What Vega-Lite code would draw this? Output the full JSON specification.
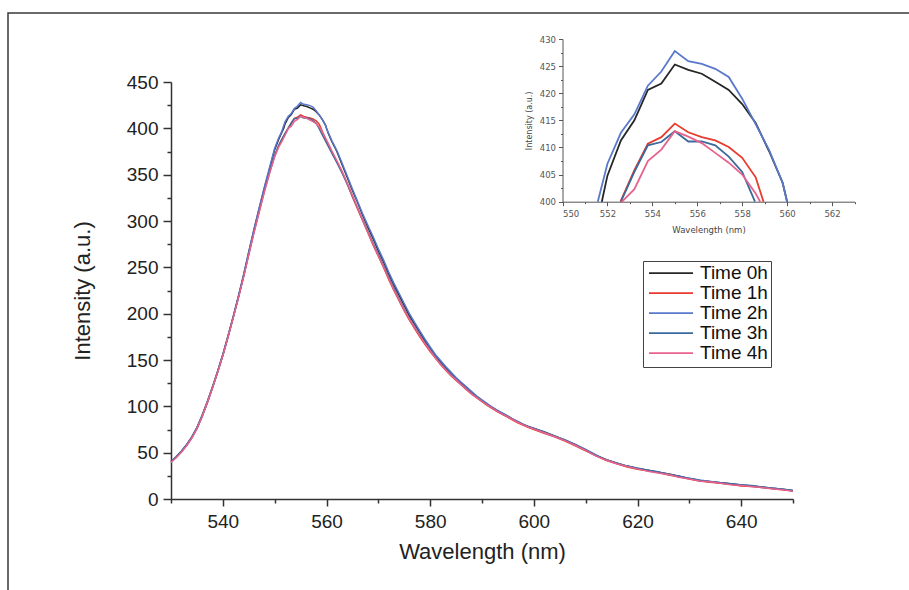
{
"$schema": "https://vega.github.io/schema/vega-lite/v6.json",
"width": 910, "height": 590,
"autosize": {"type": "none"},
"padding": {"left": 8, "top": 13, "right": 0, "bottom": 0},
"background": "white",
"config": {"view": {"stroke": "#3a3a3a", "strokeWidth": 1.5}, "font": "Liberation Sans"},
"data": {"values": [
{"s":"Time 0h","w":530,"i":40.5},{"s":"Time 0h","w":531,"i":45},{"s":"Time 0h","w":532,"i":51},{"s":"Time 0h","w":533,"i":58},{"s":"Time 0h","w":534,"i":66},{"s":"Time 0h","w":535,"i":76},{"s":"Time 0h","w":536,"i":89},{"s":"Time 0h","w":537,"i":104},{"s":"Time 0h","w":538,"i":120},{"s":"Time 0h","w":539,"i":137},{"s":"Time 0h","w":540,"i":155},{"s":"Time 0h","w":541,"i":175},{"s":"Time 0h","w":542,"i":196},{"s":"Time 0h","w":543,"i":218},{"s":"Time 0h","w":544,"i":241},{"s":"Time 0h","w":545,"i":266},{"s":"Time 0h","w":546,"i":290},{"s":"Time 0h","w":547,"i":313},{"s":"Time 0h","w":548,"i":335},{"s":"Time 0h","w":549,"i":356},{"s":"Time 0h","w":550,"i":377},{"s":"Time 0h","w":550.8,"i":388.5},{"s":"Time 0h","w":551.4,"i":395.8},{"s":"Time 0h","w":551.75,"i":400},{"s":"Time 0h","w":552,"i":404.8},{"s":"Time 0h","w":552.6,"i":411.3},{"s":"Time 0h","w":553.2,"i":415},{"s":"Time 0h","w":553.8,"i":420.6},{"s":"Time 0h","w":554.4,"i":421.8},{"s":"Time 0h","w":555,"i":425.3},{"s":"Time 0h","w":555.6,"i":424.3},{"s":"Time 0h","w":556.2,"i":423.6},{"s":"Time 0h","w":556.8,"i":422.1},{"s":"Time 0h","w":557.4,"i":420.6},{"s":"Time 0h","w":558,"i":418},{"s":"Time 0h","w":558.6,"i":414.5},{"s":"Time 0h","w":559.2,"i":409.3},{"s":"Time 0h","w":559.8,"i":403.5},{"s":"Time 0h","w":560,"i":400},{"s":"Time 0h","w":560.4,"i":394},{"s":"Time 0h","w":561,"i":386},{"s":"Time 0h","w":562,"i":375},{"s":"Time 0h","w":563,"i":361},{"s":"Time 0h","w":564,"i":347},{"s":"Time 0h","w":565,"i":333},{"s":"Time 0h","w":566,"i":320},{"s":"Time 0h","w":567,"i":306},{"s":"Time 0h","w":568,"i":293},{"s":"Time 0h","w":569,"i":281},{"s":"Time 0h","w":570,"i":268},{"s":"Time 0h","w":571,"i":256},{"s":"Time 0h","w":572,"i":243},{"s":"Time 0h","w":573,"i":231},{"s":"Time 0h","w":574,"i":220},{"s":"Time 0h","w":575,"i":209},{"s":"Time 0h","w":576,"i":198},{"s":"Time 0h","w":577,"i":189},{"s":"Time 0h","w":578,"i":180},{"s":"Time 0h","w":579,"i":171},{"s":"Time 0h","w":580,"i":163},{"s":"Time 0h","w":581,"i":155},{"s":"Time 0h","w":582,"i":148},{"s":"Time 0h","w":583,"i":142},{"s":"Time 0h","w":584,"i":136},{"s":"Time 0h","w":585,"i":130},{"s":"Time 0h","w":586,"i":125},{"s":"Time 0h","w":587,"i":120},{"s":"Time 0h","w":588,"i":115},{"s":"Time 0h","w":589,"i":110},{"s":"Time 0h","w":590,"i":106},{"s":"Time 0h","w":591,"i":102},{"s":"Time 0h","w":592,"i":98},{"s":"Time 0h","w":593,"i":95},{"s":"Time 0h","w":594,"i":92},{"s":"Time 0h","w":595,"i":89},{"s":"Time 0h","w":596,"i":86},{"s":"Time 0h","w":597,"i":83},{"s":"Time 0h","w":598,"i":80},{"s":"Time 0h","w":599,"i":78},{"s":"Time 0h","w":600,"i":76},{"s":"Time 0h","w":602,"i":72},{"s":"Time 0h","w":604,"i":68},{"s":"Time 0h","w":606,"i":63.5},{"s":"Time 0h","w":608,"i":58.5},{"s":"Time 0h","w":610,"i":53},{"s":"Time 0h","w":612,"i":47},{"s":"Time 0h","w":614,"i":42.5},{"s":"Time 0h","w":616,"i":38.5},{"s":"Time 0h","w":618,"i":35.5},{"s":"Time 0h","w":620,"i":33},{"s":"Time 0h","w":622,"i":31},{"s":"Time 0h","w":624,"i":29},{"s":"Time 0h","w":626,"i":27},{"s":"Time 0h","w":628,"i":24.5},{"s":"Time 0h","w":630,"i":22},{"s":"Time 0h","w":632,"i":20},{"s":"Time 0h","w":634,"i":18.5},{"s":"Time 0h","w":636,"i":17.5},{"s":"Time 0h","w":638,"i":16.5},{"s":"Time 0h","w":640,"i":15},{"s":"Time 0h","w":642,"i":14},{"s":"Time 0h","w":644,"i":13},{"s":"Time 0h","w":646,"i":11.5},{"s":"Time 0h","w":648,"i":10.5},{"s":"Time 0h","w":650,"i":9},
{"s":"Time 1h","w":530,"i":40},{"s":"Time 1h","w":531,"i":45},{"s":"Time 1h","w":532,"i":51},{"s":"Time 1h","w":533,"i":58},{"s":"Time 1h","w":534,"i":66.5},{"s":"Time 1h","w":535,"i":76.5},{"s":"Time 1h","w":536,"i":89.5},{"s":"Time 1h","w":537,"i":104},{"s":"Time 1h","w":538,"i":120},{"s":"Time 1h","w":539,"i":137},{"s":"Time 1h","w":540,"i":155},{"s":"Time 1h","w":541,"i":175},{"s":"Time 1h","w":542,"i":196},{"s":"Time 1h","w":543,"i":217},{"s":"Time 1h","w":544,"i":240},{"s":"Time 1h","w":545,"i":264},{"s":"Time 1h","w":546,"i":288},{"s":"Time 1h","w":547,"i":310},{"s":"Time 1h","w":548,"i":332},{"s":"Time 1h","w":549,"i":352},{"s":"Time 1h","w":550,"i":370},{"s":"Time 1h","w":550.8,"i":381.5},{"s":"Time 1h","w":551.4,"i":388},{"s":"Time 1h","w":552,"i":394},{"s":"Time 1h","w":552.58,"i":400},{"s":"Time 1h","w":553.2,"i":405.8},{"s":"Time 1h","w":553.8,"i":410.7},{"s":"Time 1h","w":554.4,"i":411.9},{"s":"Time 1h","w":555,"i":414.4},{"s":"Time 1h","w":555.6,"i":412.8},{"s":"Time 1h","w":556.2,"i":411.9},{"s":"Time 1h","w":556.8,"i":411.3},{"s":"Time 1h","w":557.4,"i":410.1},{"s":"Time 1h","w":558,"i":408.1},{"s":"Time 1h","w":558.6,"i":404.5},{"s":"Time 1h","w":558.95,"i":400},{"s":"Time 1h","w":559.2,"i":396.5},{"s":"Time 1h","w":559.8,"i":389},{"s":"Time 1h","w":560.4,"i":382},{"s":"Time 1h","w":561,"i":375},{"s":"Time 1h","w":562,"i":364},{"s":"Time 1h","w":563,"i":353},{"s":"Time 1h","w":564,"i":340},{"s":"Time 1h","w":565,"i":326},{"s":"Time 1h","w":566,"i":313},{"s":"Time 1h","w":567,"i":300},{"s":"Time 1h","w":568,"i":287},{"s":"Time 1h","w":569,"i":274},{"s":"Time 1h","w":570,"i":262},{"s":"Time 1h","w":571,"i":250},{"s":"Time 1h","w":572,"i":237},{"s":"Time 1h","w":573,"i":225},{"s":"Time 1h","w":574,"i":214},{"s":"Time 1h","w":575,"i":203},{"s":"Time 1h","w":576,"i":193},{"s":"Time 1h","w":577,"i":184},{"s":"Time 1h","w":578,"i":175},{"s":"Time 1h","w":579,"i":167},{"s":"Time 1h","w":580,"i":159},{"s":"Time 1h","w":581,"i":152},{"s":"Time 1h","w":582,"i":145},{"s":"Time 1h","w":583,"i":139},{"s":"Time 1h","w":584,"i":133},{"s":"Time 1h","w":585,"i":128},{"s":"Time 1h","w":586,"i":123},{"s":"Time 1h","w":587,"i":118},{"s":"Time 1h","w":588,"i":113},{"s":"Time 1h","w":589,"i":109},{"s":"Time 1h","w":590,"i":105},{"s":"Time 1h","w":591,"i":101},{"s":"Time 1h","w":592,"i":97.5},{"s":"Time 1h","w":593,"i":94},{"s":"Time 1h","w":594,"i":91},{"s":"Time 1h","w":595,"i":88},{"s":"Time 1h","w":596,"i":85},{"s":"Time 1h","w":597,"i":82},{"s":"Time 1h","w":598,"i":79.5},{"s":"Time 1h","w":599,"i":77},{"s":"Time 1h","w":600,"i":75},{"s":"Time 1h","w":602,"i":71},{"s":"Time 1h","w":604,"i":67},{"s":"Time 1h","w":606,"i":62.5},{"s":"Time 1h","w":608,"i":57.5},{"s":"Time 1h","w":610,"i":52},{"s":"Time 1h","w":612,"i":46.5},{"s":"Time 1h","w":614,"i":41.5},{"s":"Time 1h","w":616,"i":38},{"s":"Time 1h","w":618,"i":34.5},{"s":"Time 1h","w":620,"i":32},{"s":"Time 1h","w":622,"i":30.5},{"s":"Time 1h","w":624,"i":28.5},{"s":"Time 1h","w":626,"i":26},{"s":"Time 1h","w":628,"i":24},{"s":"Time 1h","w":630,"i":21.5},{"s":"Time 1h","w":632,"i":19.5},{"s":"Time 1h","w":634,"i":18},{"s":"Time 1h","w":636,"i":17},{"s":"Time 1h","w":638,"i":16},{"s":"Time 1h","w":640,"i":14},{"s":"Time 1h","w":642,"i":13.5},{"s":"Time 1h","w":644,"i":12.5},{"s":"Time 1h","w":646,"i":11},{"s":"Time 1h","w":648,"i":10},{"s":"Time 1h","w":650,"i":8.5},
{"s":"Time 2h","w":530,"i":40},{"s":"Time 2h","w":531,"i":45.5},{"s":"Time 2h","w":532,"i":51.5},{"s":"Time 2h","w":533,"i":58.5},{"s":"Time 2h","w":534,"i":67},{"s":"Time 2h","w":535,"i":77},{"s":"Time 2h","w":536,"i":90},{"s":"Time 2h","w":537,"i":105},{"s":"Time 2h","w":538,"i":121},{"s":"Time 2h","w":539,"i":138},{"s":"Time 2h","w":540,"i":156},{"s":"Time 2h","w":541,"i":176},{"s":"Time 2h","w":542,"i":197},{"s":"Time 2h","w":543,"i":219},{"s":"Time 2h","w":544,"i":242},{"s":"Time 2h","w":545,"i":267},{"s":"Time 2h","w":546,"i":291},{"s":"Time 2h","w":547,"i":314},{"s":"Time 2h","w":548,"i":336.5},{"s":"Time 2h","w":549,"i":357.5},{"s":"Time 2h","w":550,"i":378.5},{"s":"Time 2h","w":550.8,"i":390},{"s":"Time 2h","w":551.4,"i":397},{"s":"Time 2h","w":551.57,"i":400},{"s":"Time 2h","w":552,"i":407},{"s":"Time 2h","w":552.6,"i":412.7},{"s":"Time 2h","w":553.2,"i":416.1},{"s":"Time 2h","w":553.8,"i":421.4},{"s":"Time 2h","w":554.4,"i":424},{"s":"Time 2h","w":555,"i":427.8},{"s":"Time 2h","w":555.6,"i":425.9},{"s":"Time 2h","w":556.2,"i":425.4},{"s":"Time 2h","w":556.8,"i":424.5},{"s":"Time 2h","w":557.4,"i":423},{"s":"Time 2h","w":558,"i":419},{"s":"Time 2h","w":558.6,"i":414.3},{"s":"Time 2h","w":559.2,"i":409.5},{"s":"Time 2h","w":559.8,"i":403.5},{"s":"Time 2h","w":560,"i":400},{"s":"Time 2h","w":560.4,"i":394.5},{"s":"Time 2h","w":561,"i":387},{"s":"Time 2h","w":562,"i":376},{"s":"Time 2h","w":563,"i":362.5},{"s":"Time 2h","w":564,"i":348.5},{"s":"Time 2h","w":565,"i":334.5},{"s":"Time 2h","w":566,"i":321},{"s":"Time 2h","w":567,"i":307.5},{"s":"Time 2h","w":568,"i":295},{"s":"Time 2h","w":569,"i":283},{"s":"Time 2h","w":570,"i":270},{"s":"Time 2h","w":571,"i":258},{"s":"Time 2h","w":572,"i":245},{"s":"Time 2h","w":573,"i":233},{"s":"Time 2h","w":574,"i":222},{"s":"Time 2h","w":575,"i":211},{"s":"Time 2h","w":576,"i":200},{"s":"Time 2h","w":577,"i":190.5},{"s":"Time 2h","w":578,"i":181.5},{"s":"Time 2h","w":579,"i":172.5},{"s":"Time 2h","w":580,"i":164},{"s":"Time 2h","w":581,"i":156},{"s":"Time 2h","w":582,"i":149.5},{"s":"Time 2h","w":583,"i":143},{"s":"Time 2h","w":584,"i":137},{"s":"Time 2h","w":585,"i":131},{"s":"Time 2h","w":586,"i":126},{"s":"Time 2h","w":587,"i":121},{"s":"Time 2h","w":588,"i":116},{"s":"Time 2h","w":589,"i":111},{"s":"Time 2h","w":590,"i":107},{"s":"Time 2h","w":591,"i":103},{"s":"Time 2h","w":592,"i":99},{"s":"Time 2h","w":593,"i":95.5},{"s":"Time 2h","w":594,"i":92.5},{"s":"Time 2h","w":595,"i":89.5},{"s":"Time 2h","w":596,"i":86},{"s":"Time 2h","w":597,"i":83.5},{"s":"Time 2h","w":598,"i":80.5},{"s":"Time 2h","w":599,"i":78},{"s":"Time 2h","w":600,"i":76.5},{"s":"Time 2h","w":602,"i":72},{"s":"Time 2h","w":604,"i":67.5},{"s":"Time 2h","w":606,"i":64},{"s":"Time 2h","w":608,"i":59},{"s":"Time 2h","w":610,"i":53.5},{"s":"Time 2h","w":612,"i":47.5},{"s":"Time 2h","w":614,"i":42},{"s":"Time 2h","w":616,"i":39},{"s":"Time 2h","w":618,"i":35.5},{"s":"Time 2h","w":620,"i":33.5},{"s":"Time 2h","w":622,"i":31},{"s":"Time 2h","w":624,"i":29.5},{"s":"Time 2h","w":626,"i":26.5},{"s":"Time 2h","w":628,"i":24.5},{"s":"Time 2h","w":630,"i":22.5},{"s":"Time 2h","w":632,"i":20.5},{"s":"Time 2h","w":634,"i":19},{"s":"Time 2h","w":636,"i":17.5},{"s":"Time 2h","w":638,"i":16},{"s":"Time 2h","w":640,"i":15.5},{"s":"Time 2h","w":642,"i":14},{"s":"Time 2h","w":644,"i":12.5},{"s":"Time 2h","w":646,"i":12},{"s":"Time 2h","w":648,"i":10.5},{"s":"Time 2h","w":650,"i":9.5},
{"s":"Time 3h","w":530,"i":40.5},{"s":"Time 3h","w":531,"i":45.5},{"s":"Time 3h","w":532,"i":51.5},{"s":"Time 3h","w":533,"i":58.5},{"s":"Time 3h","w":534,"i":66.5},{"s":"Time 3h","w":535,"i":77},{"s":"Time 3h","w":536,"i":90},{"s":"Time 3h","w":537,"i":105},{"s":"Time 3h","w":538,"i":121},{"s":"Time 3h","w":539,"i":138},{"s":"Time 3h","w":540,"i":156},{"s":"Time 3h","w":541,"i":176},{"s":"Time 3h","w":542,"i":196.5},{"s":"Time 3h","w":543,"i":218},{"s":"Time 3h","w":544,"i":240.5},{"s":"Time 3h","w":545,"i":264.5},{"s":"Time 3h","w":546,"i":288.5},{"s":"Time 3h","w":547,"i":311},{"s":"Time 3h","w":548,"i":333},{"s":"Time 3h","w":549,"i":353},{"s":"Time 3h","w":550,"i":371},{"s":"Time 3h","w":550.8,"i":382},{"s":"Time 3h","w":551.4,"i":388.5},{"s":"Time 3h","w":552,"i":394.5},{"s":"Time 3h","w":552.6,"i":400},{"s":"Time 3h","w":553.2,"i":405.5},{"s":"Time 3h","w":553.8,"i":410.4},{"s":"Time 3h","w":554.4,"i":411},{"s":"Time 3h","w":555,"i":413},{"s":"Time 3h","w":555.6,"i":411.1},{"s":"Time 3h","w":556.2,"i":411.1},{"s":"Time 3h","w":556.8,"i":410.4},{"s":"Time 3h","w":557.4,"i":408.3},{"s":"Time 3h","w":558,"i":405.5},{"s":"Time 3h","w":558.57,"i":400},{"s":"Time 3h","w":559.2,"i":393},{"s":"Time 3h","w":559.8,"i":386.5},{"s":"Time 3h","w":560.4,"i":380},{"s":"Time 3h","w":561,"i":373.5},{"s":"Time 3h","w":562,"i":363},{"s":"Time 3h","w":563,"i":352},{"s":"Time 3h","w":564,"i":340},{"s":"Time 3h","w":565,"i":327},{"s":"Time 3h","w":566,"i":314},{"s":"Time 3h","w":567,"i":301},{"s":"Time 3h","w":568,"i":288.5},{"s":"Time 3h","w":569,"i":276},{"s":"Time 3h","w":570,"i":264},{"s":"Time 3h","w":571,"i":252},{"s":"Time 3h","w":572,"i":239.5},{"s":"Time 3h","w":573,"i":227.5},{"s":"Time 3h","w":574,"i":216},{"s":"Time 3h","w":575,"i":205},{"s":"Time 3h","w":576,"i":195},{"s":"Time 3h","w":577,"i":186},{"s":"Time 3h","w":578,"i":177},{"s":"Time 3h","w":579,"i":169},{"s":"Time 3h","w":580,"i":161},{"s":"Time 3h","w":581,"i":153.5},{"s":"Time 3h","w":582,"i":146.5},{"s":"Time 3h","w":583,"i":140.5},{"s":"Time 3h","w":584,"i":134.5},{"s":"Time 3h","w":585,"i":129},{"s":"Time 3h","w":586,"i":124},{"s":"Time 3h","w":587,"i":119},{"s":"Time 3h","w":588,"i":114.5},{"s":"Time 3h","w":589,"i":110},{"s":"Time 3h","w":590,"i":106},{"s":"Time 3h","w":591,"i":102},{"s":"Time 3h","w":592,"i":98.5},{"s":"Time 3h","w":593,"i":95},{"s":"Time 3h","w":594,"i":92},{"s":"Time 3h","w":595,"i":89},{"s":"Time 3h","w":596,"i":86},{"s":"Time 3h","w":597,"i":83},{"s":"Time 3h","w":598,"i":80.5},{"s":"Time 3h","w":599,"i":78},{"s":"Time 3h","w":600,"i":76},{"s":"Time 3h","w":602,"i":72.5},{"s":"Time 3h","w":604,"i":68},{"s":"Time 3h","w":606,"i":63.5},{"s":"Time 3h","w":608,"i":58.5},{"s":"Time 3h","w":610,"i":53},{"s":"Time 3h","w":612,"i":47},{"s":"Time 3h","w":614,"i":42.5},{"s":"Time 3h","w":616,"i":38.5},{"s":"Time 3h","w":618,"i":35.5},{"s":"Time 3h","w":620,"i":33},{"s":"Time 3h","w":622,"i":31},{"s":"Time 3h","w":624,"i":29},{"s":"Time 3h","w":626,"i":27},{"s":"Time 3h","w":628,"i":24.5},{"s":"Time 3h","w":630,"i":22},{"s":"Time 3h","w":632,"i":20},{"s":"Time 3h","w":634,"i":19},{"s":"Time 3h","w":636,"i":17.5},{"s":"Time 3h","w":638,"i":16.5},{"s":"Time 3h","w":640,"i":15},{"s":"Time 3h","w":642,"i":14.5},{"s":"Time 3h","w":644,"i":13},{"s":"Time 3h","w":646,"i":11.5},{"s":"Time 3h","w":648,"i":10.5},{"s":"Time 3h","w":650,"i":9},
{"s":"Time 4h","w":530,"i":39.5},{"s":"Time 4h","w":531,"i":44.5},{"s":"Time 4h","w":532,"i":50.5},{"s":"Time 4h","w":533,"i":57.5},{"s":"Time 4h","w":534,"i":65.5},{"s":"Time 4h","w":535,"i":76},{"s":"Time 4h","w":536,"i":89},{"s":"Time 4h","w":537,"i":104},{"s":"Time 4h","w":538,"i":120},{"s":"Time 4h","w":539,"i":137},{"s":"Time 4h","w":540,"i":155},{"s":"Time 4h","w":541,"i":175},{"s":"Time 4h","w":542,"i":195.5},{"s":"Time 4h","w":543,"i":217},{"s":"Time 4h","w":544,"i":239.5},{"s":"Time 4h","w":545,"i":263.5},{"s":"Time 4h","w":546,"i":287},{"s":"Time 4h","w":547,"i":309.5},{"s":"Time 4h","w":548,"i":331},{"s":"Time 4h","w":549,"i":351},{"s":"Time 4h","w":550,"i":369.5},{"s":"Time 4h","w":550.8,"i":380},{"s":"Time 4h","w":551.4,"i":386},{"s":"Time 4h","w":552,"i":392.5},{"s":"Time 4h","w":552.65,"i":400},{"s":"Time 4h","w":553.2,"i":402.3},{"s":"Time 4h","w":553.8,"i":407.5},{"s":"Time 4h","w":554.4,"i":409.6},{"s":"Time 4h","w":555,"i":413},{"s":"Time 4h","w":555.6,"i":412},{"s":"Time 4h","w":556.2,"i":410.8},{"s":"Time 4h","w":556.8,"i":409},{"s":"Time 4h","w":557.4,"i":407.2},{"s":"Time 4h","w":558,"i":405},{"s":"Time 4h","w":558.6,"i":401.5},{"s":"Time 4h","w":558.8,"i":400},{"s":"Time 4h","w":559.2,"i":396},{"s":"Time 4h","w":559.8,"i":389.5},{"s":"Time 4h","w":560.4,"i":383},{"s":"Time 4h","w":561,"i":376},{"s":"Time 4h","w":562,"i":365},{"s":"Time 4h","w":563,"i":353.5},{"s":"Time 4h","w":564,"i":341},{"s":"Time 4h","w":565,"i":327.5},{"s":"Time 4h","w":566,"i":314},{"s":"Time 4h","w":567,"i":300.5},{"s":"Time 4h","w":568,"i":287.5},{"s":"Time 4h","w":569,"i":274.5},{"s":"Time 4h","w":570,"i":262.5},{"s":"Time 4h","w":571,"i":250.5},{"s":"Time 4h","w":572,"i":238},{"s":"Time 4h","w":573,"i":226},{"s":"Time 4h","w":574,"i":215},{"s":"Time 4h","w":575,"i":204},{"s":"Time 4h","w":576,"i":194},{"s":"Time 4h","w":577,"i":185},{"s":"Time 4h","w":578,"i":176},{"s":"Time 4h","w":579,"i":168},{"s":"Time 4h","w":580,"i":160},{"s":"Time 4h","w":581,"i":152.5},{"s":"Time 4h","w":582,"i":145.5},{"s":"Time 4h","w":583,"i":139.5},{"s":"Time 4h","w":584,"i":133.5},{"s":"Time 4h","w":585,"i":128.5},{"s":"Time 4h","w":586,"i":123.5},{"s":"Time 4h","w":587,"i":118.5},{"s":"Time 4h","w":588,"i":113.5},{"s":"Time 4h","w":589,"i":109.5},{"s":"Time 4h","w":590,"i":105.5},{"s":"Time 4h","w":591,"i":101.5},{"s":"Time 4h","w":592,"i":98},{"s":"Time 4h","w":593,"i":94.5},{"s":"Time 4h","w":594,"i":91.5},{"s":"Time 4h","w":595,"i":88.5},{"s":"Time 4h","w":596,"i":85.5},{"s":"Time 4h","w":597,"i":82.5},{"s":"Time 4h","w":598,"i":80},{"s":"Time 4h","w":599,"i":77.5},{"s":"Time 4h","w":600,"i":75.5},{"s":"Time 4h","w":602,"i":71.5},{"s":"Time 4h","w":604,"i":67.5},{"s":"Time 4h","w":606,"i":63},{"s":"Time 4h","w":608,"i":58},{"s":"Time 4h","w":610,"i":52.5},{"s":"Time 4h","w":612,"i":46.5},{"s":"Time 4h","w":614,"i":42},{"s":"Time 4h","w":616,"i":38},{"s":"Time 4h","w":618,"i":35},{"s":"Time 4h","w":620,"i":32.5},{"s":"Time 4h","w":622,"i":30},{"s":"Time 4h","w":624,"i":28},{"s":"Time 4h","w":626,"i":26.5},{"s":"Time 4h","w":628,"i":23.5},{"s":"Time 4h","w":630,"i":21.5},{"s":"Time 4h","w":632,"i":19.5},{"s":"Time 4h","w":634,"i":18.5},{"s":"Time 4h","w":636,"i":17},{"s":"Time 4h","w":638,"i":15.5},{"s":"Time 4h","w":640,"i":14.5},{"s":"Time 4h","w":642,"i":13.5},{"s":"Time 4h","w":644,"i":12.5},{"s":"Time 4h","w":646,"i":11},{"s":"Time 4h","w":648,"i":10},{"s":"Time 4h","w":650,"i":8.5}
]},
"layer": [
{
"mark": {"type": "line", "strokeWidth": 1.5},
"encoding": {
"x": {"field": "w", "type": "quantitative",
"scale": {"domain": [530, 650], "range": [163, 785], "nice": false, "zero": false},
"axis": {"orient": "bottom", "offset": -104, "grid": false,
"values": [530,540,550,560,570,580,590,600,610,620,630,640,650],
"labelExpr": "datum.value % 20 === 0 ? datum.label : ''",
"tickSize": {"condition": {"test": "datum.value % 20 !== 0", "value": 4}, "value": 7},
"tickColor": "#333", "tickWidth": 1.5, "domainColor": "#333", "domainWidth": 1.5,
"labelFont": "Liberation Sans", "labelFontSize": 19, "labelColor": "#222", "labelPadding": 6,
"title": "Wavelength (nm)", "titleFont": "Liberation Sans", "titleFontSize": 22, "titleFontWeight": "normal", "titleColor": "#222", "titlePadding": 10}},
"y": {"field": "i", "type": "quantitative",
"scale": {"domain": [0, 450], "range": [486, 69], "nice": false, "zero": false},
"axis": {"orient": "left", "offset": -163, "grid": false,
"values": [0,25,50,75,100,125,150,175,200,225,250,275,300,325,350,375,400,425,450],
"labelExpr": "datum.value % 50 === 0 ? datum.label : ''",
"tickSize": {"condition": {"test": "datum.value % 50 !== 0", "value": 4}, "value": 8},
"tickColor": "#333", "tickWidth": 1.5, "domainColor": "#333", "domainWidth": 1.5,
"labelFont": "Liberation Sans", "labelFontSize": 19, "labelColor": "#222", "labelPadding": 5,
"title": "Intensity (a.u.)", "titleFont": "Liberation Sans", "titleFontSize": 22, "titleFontWeight": "normal", "titleColor": "#222", "titlePadding": 32}},
"color": {"field": "s", "type": "nominal",
"scale": {"domain": ["Time 0h","Time 1h","Time 2h","Time 3h","Time 4h"], "range": ["#262626","#e63b2e","#5a78cc","#3a6a9c","#e8628e"]},
"legend": {"orient": "none", "legendX": 635, "legendY": 248, "title": null,
"symbolType": "stroke", "symbolSize": 1936, "symbolStrokeWidth": 1.8,
"labelFont": "Liberation Sans", "labelFontSize": 19, "labelColor": "#111", "labelOffset": 6,
"strokeColor": "#444", "fillColor": "white", "padding": 3, "rowPadding": 0, "clipHeight": 18.25, "symbolOffset": 2}}
}
},
{
"transform": [{"filter": "datum.w >= 550 && datum.w <= 563 && datum.i >= 399.99"}],
"mark": {"type": "line", "strokeWidth": 1.8},
"encoding": {
"x": {"field": "w", "type": "quantitative",
"scale": {"domain": [550, 563], "range": [554.5, 846.5], "nice": false, "zero": false},
"axis": {"orient": "bottom", "offset": -401.3, "grid": false,
"values": [550,551,552,553,554,555,556,557,558,559,560,561,562,563],
"labelExpr": "datum.value % 2 === 0 && datum.value < 563 ? datum.label : ''",
"tickSize": {"condition": {"test": "datum.value % 2 !== 0", "value": 2}, "value": 4},
"tickColor": "#555", "tickWidth": 1, "domainColor": "#555", "domainWidth": 1,
"labelFont": "DejaVu Sans", "labelFontSize": 8.5, "labelColor": "#555", "labelPadding": 4,
"title": "Wavelength (nm)", "titleFont": "DejaVu Sans", "titleFontSize": 8.5, "titleFontWeight": "normal", "titleColor": "#444", "titlePadding": 7}},
"y": {"field": "i", "type": "quantitative",
"scale": {"domain": [400, 430], "range": [188.7, 26], "nice": false, "zero": false},
"axis": {"orient": "left", "offset": -554.5, "grid": false,
"values": [400,402.5,405,407.5,410,412.5,415,417.5,420,422.5,425,427.5,430],
"labelExpr": "datum.value % 5 === 0 ? datum.label : ''",
"tickSize": {"condition": {"test": "datum.value % 5 !== 0", "value": 2}, "value": 4},
"tickColor": "#555", "tickWidth": 1, "domainColor": "#555", "domainWidth": 1,
"labelFont": "DejaVu Sans", "labelFontSize": 8.5, "labelColor": "#555", "labelPadding": 3,
"title": "Intensity (a.u.)", "titleFont": "DejaVu Sans", "titleFontSize": 8, "titleFontWeight": "normal", "titleColor": "#444", "titlePadding": 6}},
"color": {"field": "s", "type": "nominal", "legend": null}
}
}
],
"resolve": {"scale": {"x": "independent", "y": "independent", "color": "shared"}}
}
